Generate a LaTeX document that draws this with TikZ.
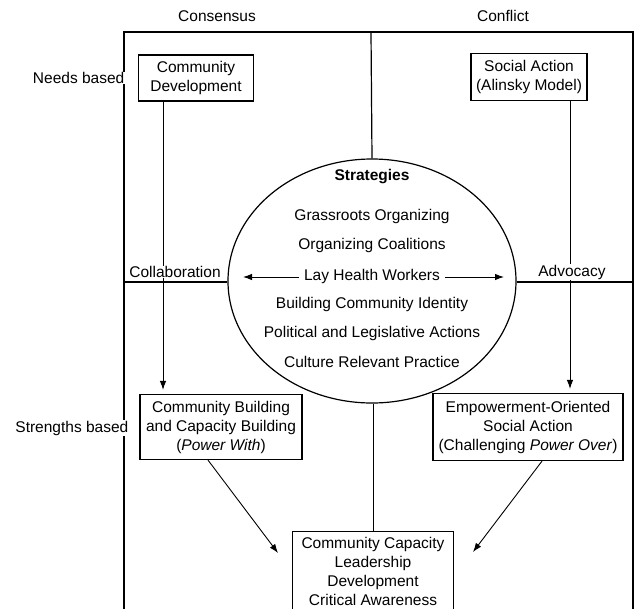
\documentclass[tikz,border=0pt]{standalone}
\usepackage{fontspec}
\setmainfont{Liberation Sans}
\usetikzlibrary{arrows.meta,shapes.geometric}
\tikzset{
  every node/.style={font=\fontsize{15.5}{19}\selectfont},
  box/.style={draw, line width=1.2pt, align=center, inner sep=0pt},
  frameline/.style={line width=1.2pt},
  thinline/.style={line width=0.9pt},
  arr/.style={line width=0.9pt, -{Latex[length=9pt,width=6.5pt]}},
  lbl/.style={fill=white, inner xsep=1.5pt, inner ysep=0.5pt},
  strat/.style={inner sep=0pt}
}
\begin{document}
\begin{tikzpicture}[x=1pt,y=-1pt]
\useasboundingbox (0,0) rectangle (637,608);
% frame
\coordinate (fbl) at (124,614);
\coordinate (ftl) at (124,32);
\coordinate (ftr) at (633,32);
\coordinate (fbr) at (633,614);
\coordinate (ftm) at (371,32);
\coordinate (fml) at (124,282);
\coordinate (fmr) at (633,282);
\draw[frameline] (fbl) -- (ftl) -- (ftr) -- (fbr);
% ellipse
\node[ellipse, draw, line width=1.2pt, minimum width=288pt, minimum height=244pt, inner sep=0pt] (strat) at (372,281) {};
% boxes
\node[box, minimum width=115pt, minimum height=46pt] (cd) at (196,78) {Community\\Development};
\node[box, minimum width=116pt, minimum height=47pt] (sa) at (529,77) {Social Action\\(Alinsky Model)};
\node[box, minimum width=162pt, minimum height=65pt] (cb) at (221,427) {Community Building\\and Capacity Building\\(\textit{Power With})};
\node[box, minimum width=190pt, minimum height=67pt] (eo) at (528,427) {Empowerment-Oriented\\Social Action\\(Challenging \textit{Power Over})};
\node[box, minimum width=161pt, minimum height=80pt, anchor=north] (cc) at (373,531) {Community Capacity\\Leadership\\Development\\Critical Awareness};
% ellipse texts
\node[strat, font=\fontsize{15.5}{19}\selectfont\bfseries] (s0) at (372,177) {Strategies};
\node[strat] (s1) at (372,216) {Grassroots Organizing};
\node[strat] (s2) at (372,245) {Organizing Coalitions};
\node[inner sep=5pt] (lhw) at (372,276) {Lay Health Workers};
\node[strat] (s4) at (372,304) {Building Community Identity};
\node[strat] (s5) at (372,333) {Political and Legislative Actions};
\node[strat] (s6) at (372,362) {Culture Relevant Practice};
\coordinate (lhl) at (243,277);
\coordinate (lhr) at (504,277);
\draw[arr] (lhw.west |- lhl) -- (lhl);
\draw[arr] (lhw.east |- lhr) -- (lhr);
% quadrant lines
\draw[frameline] (ftm) -- (strat.north);
\draw[thinline] (strat.south -| cc.north) -- (cc.north);
% vertical arrows
\coordinate (cx1) at (163,0);
\coordinate (cx2) at (570,0);
\draw[arr, shorten >=4pt] (cd.south -| cx1) -- (cb.north -| cx1);
\draw[arr, shorten >=4pt] (sa.south -| cx2) -- (eo.north -| cx2);
% diagonal arrows
\coordinate (dx1) at (208,0);
\coordinate (dx2) at (542,0);
\coordinate (ccl) at (278,553);
\coordinate (ccr) at (473,552);
\draw[arr] (cb.south -| dx1) -- (ccl);
\draw[arr] (eo.south -| dx2) -- (ccr);
% labels
\node (consensus) at (217,16) {Consensus};
\node (conflict) at (503,16) {Conflict};
\node[lbl, anchor=east] (needs) at (126,78) {Needs based};
\node[lbl, anchor=east] (strengths) at (130,428) {Strengths based};
\node[lbl] (collab) at (175,272) {Collaboration};
\node[lbl] (advoc) at (572,272) {Advocacy};
% horizontal quadrant lines drawn over label fills
\draw[frameline] (fml) -- (strat.west |- fml);
\draw[frameline] (fmr) -- (strat.east |- fmr);
\end{tikzpicture}
\end{document}
